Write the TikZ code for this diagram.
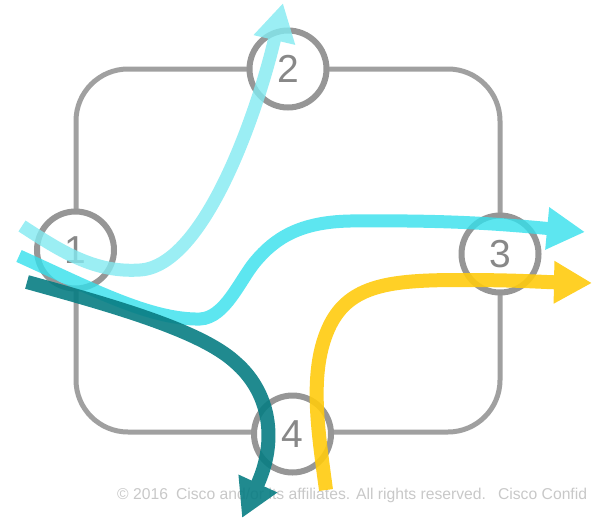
\documentclass[tikz,border=0pt]{standalone}
\usepackage{fontspec}
\setmainfont{Liberation Sans}
\usetikzlibrary{arrows.meta}
\definecolor{framegray}{RGB}{160,160,160}
\definecolor{hubgray}{RGB}{150,150,150}
\definecolor{labelgray}{RGB}{136,136,136}
\definecolor{notegray}{RGB}{200,200,200}
\definecolor{lightcyan}{RGB}{130,234,241}
\definecolor{flowcyan}{RGB}{52,224,236}
\definecolor{flowteal}{RGB}{8,125,131}
\definecolor{flowyellow}{RGB}{255,203,14}
\tikzset{
  frame/.style={draw=framegray,line width=5pt,rounded corners=52pt},
  hub/.style={circle,draw=hubgray,fill=white,line width=6pt,minimum size=77pt,inner sep=0pt,
    text=labelgray,font=\fontsize{39}{39}\selectfont},
  flow/.style={line width=13pt,-{Triangle[length=38pt,width=40pt]}},
  note/.style={anchor=base west,inner sep=0pt,text=notegray,font=\fontsize{15.7}{17}\selectfont}
}
\begin{document}
\begin{tikzpicture}[x=1pt,y=-1pt]
\useasboundingbox (0,0) rectangle (593,519);
\draw[frame] (76,69) rectangle (500,432);
\node[hub] (n1) at (75.5,250) {1};
\node[hub] (n2) at (288,69) {2};
\node[hub] (n3) at (500,254) {3};
\node[hub] (n4) at (292.5,434) {4};
\node[note] (copy) at (117,499) {©\ 2016\hspace{8pt}Cisco and/or its affiliates. All rights reserved.\hspace{12pt}Cisco Confid};
% light cyan: 1 -> 2
\coordinate (a0) at (22,226);
\coordinate (a1) at (140,270);
\coordinate (a2) at (283,3);
\begin{scope}[transparency group,opacity=0.8]
\draw[flow,draw=lightcyan]
  (a0) .. controls (62,252) and (95,273) .. (a1)
       .. controls (205,266) and (258,110) .. (a2);
\end{scope}
% cyan: 1 -> 3
\coordinate (b0) at (19,256);
\coordinate (b1) at (200,319);
\coordinate (b2) at (255,262);
\coordinate (b3) at (350,221);
\coordinate (b4) at (585,232);
\begin{scope}[transparency group,opacity=0.8]
\draw[flow,draw=flowcyan]
  (b0) .. controls (90,288) and (150,320) .. (b1)
       .. controls (225,318) and (240,280) .. (b2)
       .. controls (275,238) and (300,222) .. (b3)
       .. controls (450,220) and (500,224) .. (b4);
\end{scope}
% teal: 1 -> 4
\coordinate (c0) at (27,282);
\coordinate (c1) at (235,362);
\coordinate (c2) at (242,518);
\begin{scope}[transparency group,opacity=0.9]
\draw[flow,line width=14pt,draw=flowteal]
  (c0) .. controls (110,305) and (200,330) .. (c1)
       .. controls (270,392) and (278,440) .. (c2);
\end{scope}
% yellow: 4 -> 3
\coordinate (d0) at (326,490);
\coordinate (d1) at (330,325);
\coordinate (d2) at (460,280);
\coordinate (d3) at (592,283);
\begin{scope}[transparency group,opacity=0.9]
\draw[flow,line width=14pt,draw=flowyellow]
  (d0) .. controls (318,430) and (308,370) .. (d1)
       .. controls (350,285) and (390,280) .. (d2)
       .. controls (520,280) and (540,282) .. (d3);
\end{scope}
\end{tikzpicture}
\end{document}
